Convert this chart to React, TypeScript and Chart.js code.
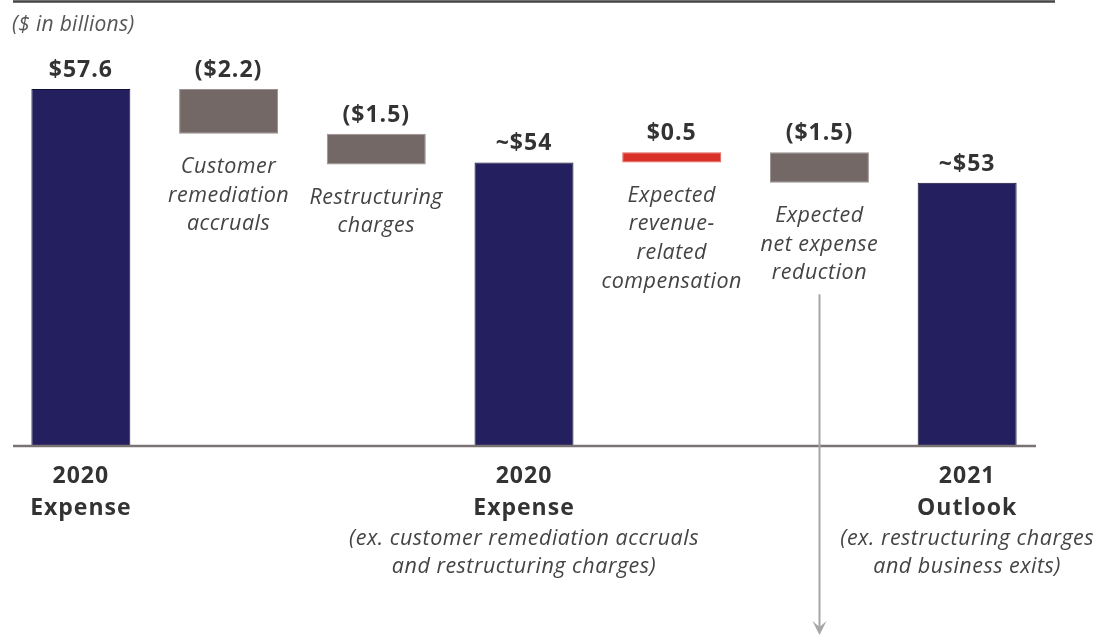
import React, { useEffect, useRef } from "react";
import { Chart, registerables } from "chart.js";

Chart.register(...registerables);

// ---- data ----
const categories = [
  "2020 Expense",
  "Customer remediation accruals",
  "Restructuring charges",
  "2020 Expense (ex. customer remediation accruals and restructuring charges)",
  "Expected revenue-related compensation",
  "Expected net expense reduction",
  "2021 Outlook (ex. restructuring charges and business exits)",
];
const amounts = [57.6, -2.2, -1.5, 54, 0.5, -1.5, 53];
const isTotal = [true, false, false, true, false, false, true];
const valueLabels = ["$57.6", "($2.2)", "($1.5)", "~$54", "$0.5", "($1.5)", "~$53"];
const annotations: string[][] = [
  [],
  ["Customer", "remediation", "accruals"],
  ["Restructuring", "charges"],
  [],
  ["Expected", "revenue-", "related", "compensation"],
  ["Expected", "net expense", "reduction"],
  [],
];
const axisTitles: string[][] = [
  ["2020", "Expense"],
  [],
  [],
  ["2020", "Expense"],
  [],
  [],
  ["2021", "Outlook"],
];
const axisNotes: string[][] = [
  [],
  [],
  [],
  ["(ex. customer remediation accruals", "and restructuring charges)"],
  [],
  [],
  ["(ex. restructuring charges", "and business exits)"],
];
const unitNote = "($ in billions)";
const arrowIndex = 5;
const yMin = 40.1;
const yMax = 60;

// ---- colours ----
const NAVY = "#241f5e";
const GRAY = "#736866";
const RED = "#d93127";
const TEXT = "#333333";
const ITALIC_TEXT = "#444444";

function buildRanges() {
  const out: [number, number][] = [];
  let running = 0;
  amounts.forEach((v, i) => {
    if (isTotal[i]) {
      out.push([yMin, v]);
      running = v;
    } else {
      const next = running + v;
      out.push([Math.min(running, next), Math.max(running, next)]);
      running = next;
    }
  });
  return out;
}

const BOLD_FONT = "bold 23px 'Open Sans'";
const ITALIC_FONT = "italic 21.5px 'Open Sans'";

const overlayPlugin = {
  id: "overlay",
  afterDatasetsDraw(chart: any) {
    const ctx = chart.ctx as CanvasRenderingContext2D;
    const area = chart.chartArea;
    const meta = chart.getDatasetMeta(0);
    ctx.save();

    // top rule
    ctx.strokeStyle = "#444444";
    ctx.lineWidth = 2.5;
    ctx.beginPath();
    ctx.moveTo(13, 1.5);
    ctx.lineTo(1055, 1.5);
    ctx.stroke();

    // unit note
    ctx.fillStyle = "#555555";
    ctx.font = "italic 21px 'Open Sans'";
    ctx.textAlign = "left";
    ctx.textBaseline = "alphabetic";
    (ctx as any).letterSpacing = "0.3px";
    ctx.fillText(unitNote, 12, 31);

    // baseline axis
    ctx.strokeStyle = "#7b7373";
    ctx.lineWidth = 2.5;
    ctx.beginPath();
    ctx.moveTo(13, area.bottom);
    ctx.lineTo(1036, area.bottom);
    ctx.stroke();

    ctx.textAlign = "center";
    meta.data.forEach((bar: any, i: number) => {
      const x = bar.x;
      const top = Math.min(bar.y, bar.base);
      const bottom = Math.max(bar.y, bar.base);

      // value label
      ctx.fillStyle = TEXT;
      ctx.font = BOLD_FONT;
      (ctx as any).letterSpacing = "1px";
      ctx.textBaseline = "alphabetic";
      ctx.fillText(valueLabels[i], x, top - 12);

      // annotation below floating bars
      ctx.fillStyle = ITALIC_TEXT;
      ctx.font = ITALIC_FONT;
      (ctx as any).letterSpacing = "0.5px";
      ctx.textBaseline = "middle";
      annotations[i].forEach((line, k) => {
        ctx.fillText(line, x, bottom + 33 + k * 28.7);
      });

      // axis titles
      ctx.fillStyle = TEXT;
      ctx.font = BOLD_FONT;
      (ctx as any).letterSpacing = "1px";
      ctx.textBaseline = "alphabetic";
      axisTitles[i].forEach((line, k) => {
        ctx.fillText(line, x, area.bottom + 37 + k * 32);
      });

      // axis notes
      ctx.fillStyle = ITALIC_TEXT;
      ctx.font = ITALIC_FONT;
      (ctx as any).letterSpacing = "0.5px";
      axisNotes[i].forEach((line, k) => {
        ctx.fillText(line, x, area.bottom + 99 + k * 28);
      });
    });

    // arrow
    const ab = meta.data[arrowIndex] as any;
    if (ab) {
      const ax = Math.round(ab.x) + 0.5;
      const bottom = Math.max(ab.y, ab.base);
      const y0 = bottom + 33 + (annotations[arrowIndex].length - 1) * 28.7 + 21;
      const y1 = 634;
      ctx.strokeStyle = "#a6a6a6";
      ctx.fillStyle = "#a6a6a6";
      ctx.lineWidth = 2;
      ctx.beginPath();
      ctx.moveTo(ax, y0);
      ctx.lineTo(ax, y1 - 6);
      ctx.stroke();
      ctx.beginPath();
      ctx.moveTo(ax, y1 + 1);
      ctx.lineTo(ax - 7, y1 - 13);
      ctx.lineTo(ax, y1 - 7);
      ctx.lineTo(ax + 7, y1 - 13);
      ctx.closePath();
      ctx.fill();
    }

    ctx.restore();
  },
};

export default function App() {
  const ref = useRef<HTMLCanvasElement | null>(null);

  useEffect(() => {
    if (!ref.current) return;
    const ranges = buildRanges();
    const colors = amounts.map((v, i) => (isTotal[i] ? NAVY : v > 0 ? RED : GRAY));
    const borders = amounts.map((v, i) => (isTotal[i] ? "#111133" : v > 0 ? "#e06058" : "#9a9090"));
    const chart = new Chart(ref.current, {
      type: "bar",
      data: {
        labels: categories,
        datasets: [
          {
            data: ranges as any,
            backgroundColor: colors,
            borderColor: borders,
            borderWidth: 1,
            borderSkipped: false,
            barPercentage: 0.67,
            categoryPercentage: 1,
          },
        ],
      },
      options: {
        responsive: false,
        animation: false,
        layout: { padding: { left: 7, right: 58, top: 40, bottom: 190 } },
        plugins: {
          legend: { display: false },
          tooltip: { enabled: false },
          title: { display: false },
        },
        scales: {
          x: { display: false },
          y: { display: false, min: yMin, max: yMax },
        },
      },
      plugins: [overlayPlugin],
    });
    return () => chart.destroy();
  }, []);

  return (
    <div style={{ position: "absolute", left: 0, top: 0, width: 1099, height: 636, background: "#ffffff" }}>
      <canvas ref={ref} width={1099} height={636} style={{ width: 1099, height: 636 }} />
    </div>
  );
}
